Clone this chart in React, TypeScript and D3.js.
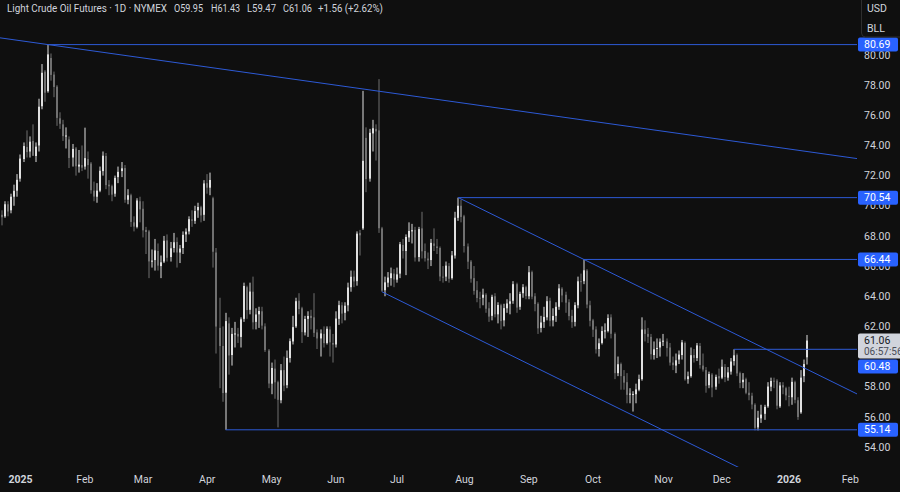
import React from "react";
import * as d3 from "d3";

// ---------- sessions (trading days) ----------
const monthKeys = ["2024-12", "2025-01", "2025-02", "2025-03", "2025-04", "2025-05", "2025-06", "2025-07", "2025-08", "2025-09", "2025-10", "2025-11", "2025-12", "2026-01", "2026-02"];
const monthDays = [
  [20, 23, 24, 26, 27, 30, 31],
  [2, 3, 6, 7, 8, 9, 10, 13, 14, 15, 16, 17, 21, 22, 23, 24, 27, 28, 29, 30, 31],
  [3, 4, 5, 6, 7, 10, 11, 12, 13, 14, 18, 19, 20, 21, 24, 25, 26, 27, 28],
  [3, 4, 5, 6, 7, 10, 11, 12, 13, 14, 17, 18, 19, 20, 21, 24, 25, 26, 27, 28, 31],
  [1, 2, 3, 4, 7, 8, 9, 10, 11, 14, 15, 16, 17, 21, 22, 23, 24, 25, 28, 29, 30],
  [1, 2, 5, 6, 7, 8, 9, 12, 13, 14, 15, 16, 19, 20, 21, 22, 23, 27, 28, 29, 30],
  [2, 3, 4, 5, 6, 9, 10, 11, 12, 13, 16, 17, 18, 20, 23, 24, 25, 26, 27, 30],
  [1, 2, 3, 7, 8, 9, 10, 11, 14, 15, 16, 17, 18, 21, 22, 23, 24, 25, 28, 29, 30, 31],
  [1, 4, 5, 6, 7, 8, 11, 12, 13, 14, 15, 18, 19, 20, 21, 22, 25, 26, 27, 28, 29],
  [2, 3, 4, 5, 8, 9, 10, 11, 12, 15, 16, 17, 18, 19, 22, 23, 24, 25, 26, 29, 30],
  [1, 2, 3, 6, 7, 8, 9, 10, 13, 14, 15, 16, 17, 20, 21, 22, 23, 24, 27, 28, 29, 30, 31],
  [3, 4, 5, 6, 7, 10, 11, 12, 13, 14, 17, 18, 19, 20, 21, 24, 25, 26, 28],
  [1, 2, 3, 4, 5, 8, 9, 10, 11, 12, 15, 16, 17, 18, 19, 22, 23, 24, 26, 29, 30, 31],
  [2, 5, 6, 7, 8, 9, 12, 13, 14, 15, 16, 20, 21, 22, 23, 26, 27, 28, 29, 30],
  [2, 3, 4, 5, 6, 9, 10, 11, 12, 13],
];
const monthLabels = ["2025", "Feb", "Mar", "Apr", "May", "Jun", "Jul", "Aug", "Sep", "Oct", "Nov", "Dec", "2026", "Feb"];

// ---------- OHLC [open, high, low, close] per month ----------
const dec24 = [
  [69.2, 69.8, 68.3, 69.46], [69.4, 69.7, 68.7, 69.24], [69.3, 70.3, 69.2, 70.1], [70.1, 70.3, 69.3, 69.62],
  [69.7, 70.8, 69.5, 70.6], [70.6, 71.4, 70.0, 70.99], [71.0, 72.1, 70.6, 71.72],
];
const jan25 = [
  [71.8, 73.4, 71.6, 73.13], [73.1, 74.2, 72.9, 73.96], [73.9, 75.0, 73.2, 73.56], [73.6, 74.6, 73.2, 74.25],
  [74.3, 75.4, 73.3, 73.32], [73.3, 74.2, 72.9, 73.92], [74.0, 77.1, 73.6, 76.57], [76.6, 79.4, 76.4, 78.82],
  [78.9, 79.0, 76.9, 77.5], [77.6, 80.69, 77.5, 80.04], [79.8, 80.1, 78.3, 78.68], [78.7, 78.9, 77.2, 77.88],
  [77.9, 78.0, 75.3, 75.83], [75.8, 76.2, 75.1, 75.44], [75.4, 75.7, 74.3, 74.62], [74.6, 75.2, 73.8, 74.66],
  [74.4, 74.6, 72.5, 73.17], [73.2, 74.1, 72.6, 73.77], [73.8, 73.9, 72.0, 72.62], [72.6, 73.7, 72.2, 72.73],
  [72.7, 74.0, 72.3, 72.53],
];
const feb25 = [
  [72.6, 75.18, 72.4, 73.16], [73.1, 73.6, 71.8, 72.7], [72.8, 72.9, 70.8, 71.03], [71.0, 71.6, 70.3, 70.61],
  [70.6, 71.5, 70.2, 71.0], [71.0, 72.6, 70.9, 72.32], [72.3, 73.6, 72.0, 73.32], [73.3, 73.5, 71.1, 71.37],
  [71.4, 71.7, 70.7, 71.29], [71.3, 71.4, 70.3, 70.74], [70.8, 72.0, 70.6, 71.85], [71.9, 72.6, 71.5, 72.25],
  [72.3, 72.9, 71.9, 72.48], [72.5, 72.7, 70.2, 70.4], [70.4, 71.1, 70.1, 70.7], [70.7, 70.8, 68.6, 68.93],
  [68.9, 69.3, 68.3, 68.62], [68.6, 70.5, 68.5, 70.35], [70.3, 70.6, 68.9, 69.76],
];
const mar25 = [
  [69.8, 70.3, 67.9, 68.37], [68.4, 68.6, 66.8, 68.26], [68.3, 68.4, 65.2, 66.31], [66.3, 67.1, 65.9, 66.36],
  [66.4, 67.8, 65.7, 67.04], [67.0, 67.5, 65.7, 66.03], [66.0, 66.7, 65.2, 66.25], [66.3, 68.0, 66.2, 67.68],
  [67.7, 68.1, 66.3, 66.55], [66.6, 67.6, 66.3, 67.18], [67.2, 68.2, 66.9, 67.58], [67.6, 67.9, 65.9, 66.9],
  [66.9, 67.4, 66.2, 67.16], [67.2, 68.3, 66.8, 68.07], [68.1, 68.5, 67.6, 68.28], [68.3, 69.3, 68.1, 69.11],
  [69.1, 69.7, 68.6, 69.0], [69.0, 70.0, 68.8, 69.65], [69.7, 70.2, 69.2, 69.92], [69.9, 70.0, 68.9, 69.36],
  [69.4, 71.7, 69.0, 71.48],
];
const apr25 = [
  [71.5, 72.1, 70.8, 71.2], [71.2, 72.2, 70.7, 71.71], [70.5, 70.6, 65.9, 66.95], [66.9, 67.2, 60.2, 61.99],
  [61.9, 63.9, 57.9, 60.7], [60.7, 62.0, 57.0, 57.58], [57.6, 62.9, 55.14, 62.35], [62.2, 62.6, 58.8, 60.07],
  [60.1, 61.9, 59.4, 61.5], [61.5, 62.3, 60.6, 61.53], [61.5, 61.9, 60.9, 61.33], [61.3, 62.6, 60.6, 62.47],
  [62.5, 64.9, 62.3, 64.68], [64.6, 64.7, 62.5, 63.08], [63.1, 64.9, 62.8, 64.31], [64.3, 65.3, 61.8, 62.27],
  [62.3, 63.2, 61.8, 62.79], [62.8, 63.3, 61.9, 63.02], [63.0, 63.3, 61.8, 62.05], [62.0, 62.2, 60.3, 60.42],
  [60.4, 60.5, 57.9, 58.21],
];
const may25 = [
  [58.2, 59.6, 57.5, 59.24], [59.2, 59.8, 57.2, 58.29], [58.3, 58.4, 55.3, 57.13], [57.1, 59.5, 56.9, 59.09],
  [59.1, 60.0, 57.7, 58.07], [58.1, 60.4, 57.9, 59.91], [59.9, 61.2, 59.6, 61.02], [61.0, 62.7, 60.8, 61.95],
  [62.0, 63.9, 61.9, 63.67], [63.7, 64.2, 62.8, 63.15], [63.2, 63.3, 60.9, 61.62], [61.6, 62.7, 61.4, 62.49],
  [62.5, 63.0, 61.3, 62.69], [62.7, 63.1, 61.8, 62.56], [62.6, 64.2, 61.3, 61.57], [61.6, 61.8, 60.5, 61.2],
  [61.2, 61.8, 60.0, 61.53], [61.5, 62.0, 60.6, 60.89], [60.9, 62.0, 60.8, 61.84], [61.8, 62.0, 60.0, 60.94],
  [60.9, 61.5, 59.6, 60.79],
];
const jun25 = [
  [60.8, 63.0, 60.6, 62.52], [62.5, 63.7, 62.1, 63.41], [63.4, 63.6, 62.2, 62.85], [62.9, 63.6, 62.4, 63.37],
  [63.4, 64.9, 63.0, 64.58], [64.6, 65.7, 64.3, 65.29], [65.3, 65.7, 64.6, 64.98], [65.0, 68.3, 64.7, 68.15],
  [68.2, 68.4, 66.7, 68.04], [68.5, 77.62, 68.4, 72.98], [74.5, 75.2, 70.9, 71.77], [71.8, 75.1, 71.6, 74.84],
  [74.8, 75.7, 73.6, 75.14], [75.1, 75.4, 73.0, 74.93], [75.0, 78.4, 68.2, 68.51], [68.5, 68.6, 64.3, 64.37],
  [64.4, 65.3, 64.0, 64.92], [64.9, 65.6, 64.6, 65.24], [65.2, 65.9, 64.7, 65.52], [65.5, 65.8, 64.6, 65.11],
];
const jul25 = [
  [65.1, 65.9, 64.9, 65.45], [65.5, 67.6, 65.2, 67.45], [67.4, 67.8, 66.5, 67.0], [67.0, 68.1, 65.4, 67.93],
  [67.9, 68.9, 67.6, 68.33], [68.3, 68.8, 67.5, 68.38], [68.4, 68.6, 66.3, 66.57], [66.6, 68.6, 66.3, 68.45],
  [68.5, 69.6, 66.5, 66.98], [67.0, 67.5, 66.3, 66.52], [66.5, 66.9, 65.8, 66.38], [66.4, 67.8, 66.0, 67.54],
  [67.5, 68.5, 67.0, 67.34], [67.3, 67.8, 66.8, 67.2], [67.2, 67.3, 65.0, 65.31], [65.3, 66.0, 64.9, 65.25],
  [65.3, 66.3, 65.0, 66.03], [66.0, 66.2, 64.9, 65.16], [65.2, 67.0, 65.1, 66.71], [66.7, 69.6, 66.5, 69.21],
  [69.2, 70.54, 69.0, 70.0], [70.0, 70.4, 68.9, 69.26],
];
const aug25 = [
  [69.3, 69.4, 66.9, 67.33], [67.3, 67.5, 65.8, 66.29], [66.3, 66.4, 64.9, 65.16], [65.2, 66.0, 64.1, 64.35],
  [64.4, 65.0, 63.6, 63.88], [63.9, 64.3, 63.2, 63.88], [63.9, 64.5, 63.4, 64.1], [64.1, 64.2, 62.9, 63.17],
  [63.2, 63.6, 62.3, 62.65], [62.7, 64.1, 62.4, 63.96], [64.0, 64.2, 62.6, 62.8], [62.8, 63.6, 62.2, 63.42],
  [63.4, 63.5, 61.8, 62.35], [62.4, 63.5, 62.0, 63.21], [63.2, 63.8, 62.9, 63.52], [63.5, 64.2, 62.8, 63.66],
  [63.7, 65.0, 63.5, 64.8], [64.8, 64.9, 62.9, 63.25], [63.3, 64.3, 63.1, 64.15], [64.2, 64.8, 63.9, 64.6],
  [64.6, 64.7, 63.8, 64.01],
];
const sep25 = [
  [64.0, 66.0, 63.8, 65.59], [65.6, 65.7, 63.8, 63.97], [64.0, 64.2, 63.0, 63.48], [63.5, 63.6, 61.5, 61.87],
  [61.9, 62.7, 61.6, 62.26], [62.3, 63.3, 61.9, 62.63], [62.6, 64.0, 62.4, 63.67], [63.7, 63.9, 62.0, 62.37],
  [62.4, 63.2, 62.0, 62.69], [62.7, 63.6, 62.3, 63.3], [63.3, 64.8, 63.1, 64.52], [64.5, 64.6, 63.6, 64.05],
  [64.1, 64.3, 62.9, 63.57], [63.6, 63.8, 62.4, 62.68], [62.7, 63.1, 61.9, 62.28], [62.3, 63.6, 62.0, 63.41],
  [63.4, 65.3, 63.2, 64.99], [65.0, 65.5, 64.3, 64.98], [65.0, 66.44, 64.8, 65.72], [65.7, 65.8, 63.2, 63.45],
  [63.4, 63.7, 62.0, 62.37],
];
const oct25 = [
  [62.4, 62.5, 61.3, 61.78], [61.8, 62.0, 60.2, 60.48], [60.5, 61.2, 60.0, 60.88], [60.9, 62.0, 60.8, 61.69],
  [61.7, 62.2, 61.2, 61.73], [61.7, 62.8, 61.6, 62.55], [62.6, 62.8, 61.2, 61.51], [61.5, 61.6, 58.5, 58.9],
  [58.9, 60.0, 58.7, 59.49], [59.5, 59.6, 57.8, 58.7], [58.7, 59.1, 57.8, 58.27], [58.3, 58.9, 56.9, 57.46],
  [57.5, 57.9, 56.9, 57.54], [57.5, 57.7, 56.35, 57.52], [57.5, 58.2, 56.9, 57.82], [57.8, 58.8, 57.7, 58.5],
  [58.5, 62.6, 58.4, 61.79], [61.8, 62.4, 61.0, 61.5], [61.5, 61.9, 60.9, 61.31], [61.3, 61.5, 59.8, 60.15],
  [60.1, 61.0, 59.8, 60.48], [60.5, 61.2, 59.9, 60.57], [60.6, 61.2, 60.0, 60.98],
];
const nov25 = [
  [61.0, 61.5, 60.7, 61.05], [61.0, 61.2, 60.0, 60.56], [60.6, 60.9, 59.4, 59.6], [59.6, 60.0, 59.1, 59.43],
  [59.4, 60.2, 58.9, 59.75], [59.8, 60.4, 59.5, 60.13], [60.1, 61.1, 59.8, 60.94], [60.9, 61.0, 58.4, 58.49],
  [58.5, 59.0, 58.2, 58.69], [58.7, 60.6, 58.6, 60.09], [60.1, 60.5, 59.6, 59.91], [59.9, 60.9, 59.7, 60.74],
  [60.7, 60.9, 59.2, 59.44], [59.4, 60.2, 59.0, 59.14], [59.1, 59.3, 57.6, 58.06], [58.1, 59.0, 57.9, 58.84],
  [58.8, 58.9, 57.3, 57.95], [58.0, 58.8, 57.8, 58.65], [58.7, 59.2, 58.2, 58.55],
];
const dec25 = [
  [58.6, 59.8, 58.5, 59.32], [59.3, 59.5, 58.3, 58.64], [58.6, 59.3, 58.4, 58.95], [59.0, 59.9, 58.8, 59.67],
  [59.7, 60.48, 59.4, 60.08], [60.1, 60.2, 58.7, 58.88], [58.9, 59.0, 57.9, 58.25], [58.3, 58.9, 57.9, 58.46],
  [58.5, 58.6, 57.5, 57.6], [57.6, 58.3, 57.1, 57.44], [57.4, 57.6, 56.5, 56.82], [56.8, 56.9, 55.1, 55.27],
  [55.3, 56.4, 55.1, 55.94], [55.9, 56.8, 55.6, 56.15], [56.2, 56.8, 55.8, 56.66], [56.7, 58.3, 56.6, 58.01],
  [58.0, 58.6, 57.7, 58.38], [58.4, 58.6, 57.9, 58.35], [58.4, 58.5, 56.5, 56.74], [56.7, 58.3, 56.6, 58.08],
  [58.1, 58.3, 57.5, 57.95], [57.9, 58.0, 57.1, 57.42],
];
const jan26 = [
  [57.4, 58.0, 56.7, 57.32], [57.3, 58.6, 56.8, 58.32], [58.3, 58.4, 56.9, 57.13], [57.1, 57.3, 55.8, 55.99],
  [56.3, 59.1, 56.2, 58.6], [58.7, 59.8, 58.3, 59.5], [59.95, 61.43, 59.47, 61.06],
];

// ---------- drawings ----------
const levelPrices = [80.69, 70.54, 66.44, 60.48, 55.14];
const levelStarts = ["2025-01-15", "2025-07-30", "2025-09-26", "2025-12-05", "2025-04-09"];
const longTrend = [["2025-01-15", 80.69], ["2025-06-23", 77.6]];
const channelTop = [["2025-07-30", 70.54], ["2025-09-26", 66.44]];
const channelBottom = [["2025-06-24", 64.3], ["2025-12-10", 52.5]];
const priceTicks = [54, 56, 58, 62, 64, 66, 68, 70, 72, 74, 76, 78, 80];

const header = ["Light Crude Oil Futures · 1D · NYMEX", "O59.95", "H61.43", "L59.47", "C61.06", "+1.56 (+2.62%)"];
const lastPrice = 61.06;
const countdown = "06:57:56";

const BG = "#0f0f0f";
const BLUE_LINE = "#2d5ad6";
const BLUE_BOX = "#2962ff";
const TXT = "#d1d4dc";
const UP = "#e0e0e0";
const DOWN = "#707070";
const FONT = "Roboto, 'Noto Sans', sans-serif";

export default function App() {
  const sessions: string[] = [];
  monthKeys.forEach((m, i) => monthDays[i].forEach((d) => sessions.push(`${m}-${String(d).padStart(2, "0")}`)));
  const idxOf = new Map(sessions.map((s, i) => [s, i]));
  const rows = [...dec24, ...jan25, ...feb25, ...mar25, ...apr25, ...may25, ...jun25, ...jul25, ...aug25, ...sep25, ...oct25, ...nov25, ...dec25, ...jan26];
  const candles = rows.map((r, i) => ({ i, o: r[0], h: r[1], l: r[2], c: r[3] }));

  const PR = 857;
  const PB = 467;
  const x = d3.scaleLinear().domain([0.305, 280.2]).range([0, PR]);
  const y = d3.scaleLinear().domain([54, 80]).range([447, 55]);
  const xEnd = x.invert(PR);
  const xStart = x.invert(0);

  const segExt = (pts: any[], extLeft: boolean, extRight: boolean) => {
    const i1 = idxOf.get(pts[0][0])!, p1 = pts[0][1];
    const i2 = idxOf.get(pts[1][0])!, p2 = pts[1][1];
    const k = (p2 - p1) / (i2 - i1);
    const a = extLeft ? xStart : i1;
    const b = extRight ? xEnd : i2;
    return { x1: x(a), y1: y(p1 + k * (a - i1)), x2: x(b), y2: y(p1 + k * (b - i1)) };
  };
  const lines = [segExt(longTrend, true, true), segExt(channelTop, false, true), segExt(channelBottom, false, false)];

  const monthFirst = monthKeys.slice(1).map((m) => sessions.findIndex((s) => s.startsWith(m)));

  const lastTop = y(lastPrice) - 7;
  const lastBot = lastTop + 25;
  const labelY = levelPrices.map((p) => {
    const cy = y(p);
    if (cy + 7 > lastTop && cy - 7 < lastBot) return lastBot + 1 + 7;
    return cy;
  });

  const headerX = [7, 174, 211, 247, 283, 318];
  const headerW = [160, 29, 29, 29, 29, 65];

  return (
    <div style={{ position: "fixed", left: 0, top: 0, width: 900, height: 492, background: BG }}>
      <svg width={900} height={492} style={{ display: "block", fontFamily: FONT }}>
        <rect width={900} height={492} fill={BG} />
        <defs>
          <clipPath id="plot">
            <rect x={0} y={0} width={PR} height={PB} />
          </clipPath>
        </defs>
        <g clipPath="url(#plot)">
          {candles.map((d) => {
            const cx = x(d.i);
            const bx = Math.round(cx - 1);
            const col = d.c >= d.o ? UP : DOWN;
            const top = y(Math.max(d.o, d.c));
            const bot = y(Math.min(d.o, d.c));
            return (
              <g key={d.i}>
                <line x1={bx + 1} x2={bx + 1} y1={y(d.h)} y2={y(d.l)} stroke={col} strokeWidth={1} />
                <rect x={bx} y={top} width={2} height={Math.max(1, bot - top)} fill={col} />
              </g>
            );
          })}
          {levelPrices.map((p, k) => (
            <line key={"lv" + k} x1={x(idxOf.get(levelStarts[k])!)} x2={PR} y1={y(p)} y2={y(p)} stroke={BLUE_LINE} strokeWidth={1} />
          ))}
          {lines.map((l, k) => (
            <line key={"tl" + k} {...l} stroke={BLUE_LINE} strokeWidth={1} />
          ))}
        </g>

        {/* price axis */}
        {priceTicks.map((t) => (
          <text key={t} x={864} y={y(t)} dy="0.35em" fontSize={10.5} fill={TXT}>
            {t.toFixed(2)}
          </text>
        ))}
        {levelPrices.map((p, k) => (
          <g key={"bx" + k}>
            <rect x={858} y={labelY[k] - 7} width={40} height={14} rx={2} fill={BLUE_BOX} />
            <text x={864} y={labelY[k]} dy="0.35em" fontSize={10.5} fill="#ffffff">
              {p.toFixed(2)}
            </text>
          </g>
        ))}
        <rect x={858} y={lastTop} width={44} height={25} rx={2} fill="#d1d4dc" />
        <text x={864} y={y(lastPrice)} dy="0.35em" fontSize={10.5} fill="#131722">
          {lastPrice.toFixed(2)}
        </text>
        <text x={864} y={y(lastPrice) + 11} dy="0.35em" fontSize={10} fill="#4a4d57">
          {countdown}
        </text>

        {/* currency box */}
        <rect x={861.5} y={-4} width={45} height={41} rx={4} fill={BG} stroke="#2e2e2e" />
        <text x={867} y={8} dy="0.35em" fontSize={10.5} fill={TXT}>USD</text>
        <text x={867} y={28} dy="0.35em" fontSize={10.5} fill={TXT}>BLL</text>

        {/* time axis */}
        {monthFirst.map((si, k) => (
          <text
            key={"m" + k}
            x={x(si)}
            y={479}
            dy="0.35em"
            textAnchor="middle"
            fontSize={10.5}
            fontWeight={monthLabels[k].length === 4 ? 700 : 400}
            fill={TXT}
          >
            {monthLabels[k]}
          </text>
        ))}

        {/* header */}
        {header.map((h, k) => (
          <text
            key={"h" + k}
            x={headerX[k]}
            y={8}
            dy="0.35em"
            fontSize={10}
            fill={TXT}
            textLength={headerW[k]}
            lengthAdjust="spacingAndGlyphs"
          >
            {h}
          </text>
        ))}
      </svg>
    </div>
  );
}
